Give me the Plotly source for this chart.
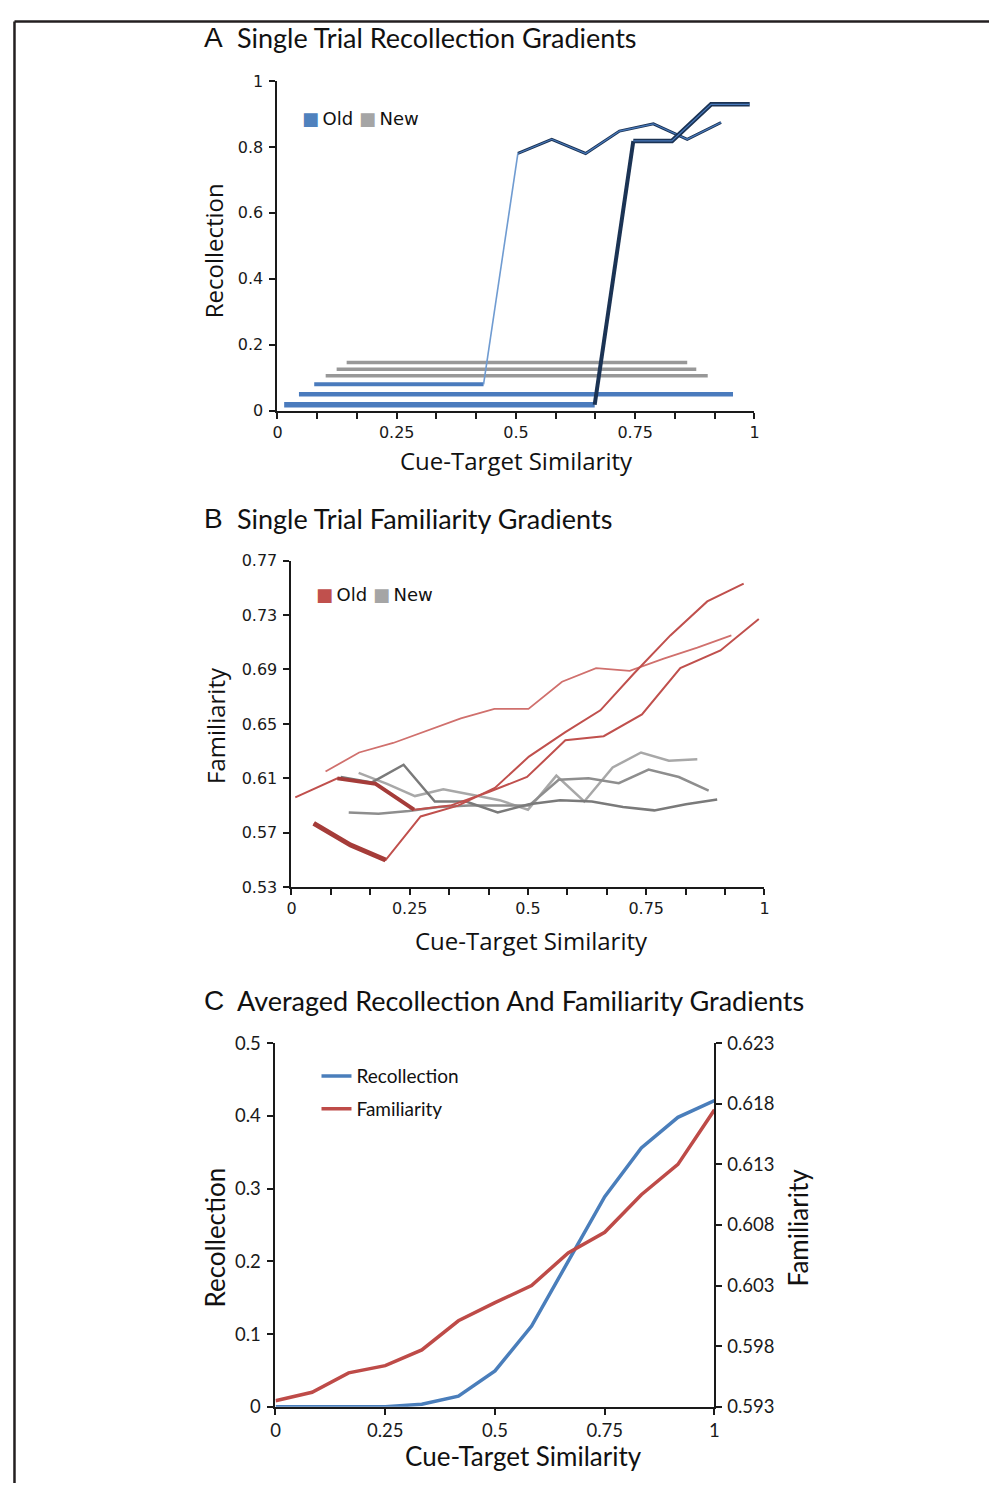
import plotly.graph_objects as go

W, H = 997, 1485
# the captured picture maps page pixels as: shot = 0.99*x + 12.5, 0.986*y + 19
SX, OX, SY, OY = 0.99, 12.5, 0.986, 19.0


def fx(px):
    return ((px - OX) / SX) / W


def fy(py):
    return 1 - ((py - OY) / SY) / H


# ---------------- Panel A : single-trial recollection gradients ----------------
A_OLD1_X = [0.014, 0.095, 0.177, 0.258, 0.339, 0.421, 0.502, 0.583, 0.665, 0.746, 0.827, 0.909, 0.990]
A_OLD1_Y = [0.018, 0.018, 0.018, 0.018, 0.018, 0.018, 0.018, 0.018, 0.018, 0.818, 0.818, 0.929, 0.929]
A_OLD2_X = [0.045, 0.121, 0.197, 0.273, 0.348, 0.424, 0.500, 0.576, 0.652, 0.727, 0.803, 0.879, 0.955]
A_OLD2_Y = [0.050, 0.050, 0.050, 0.050, 0.050, 0.050, 0.050, 0.050, 0.050, 0.050, 0.050, 0.050, 0.050]
A_OLD3_X = [0.077, 0.148, 0.219, 0.290, 0.361, 0.432, 0.504, 0.575, 0.646, 0.717, 0.788, 0.859, 0.930]
A_OLD3_Y = [0.080, 0.080, 0.080, 0.080, 0.080, 0.080, 0.780, 0.823, 0.780, 0.848, 0.870, 0.823, 0.874]
A_NEW1_X = [0.101, 0.168, 0.235, 0.301, 0.368, 0.435, 0.502, 0.568, 0.635, 0.702, 0.768, 0.835, 0.902]
A_NEW1_Y = [0.106, 0.106, 0.106, 0.106, 0.106, 0.106, 0.106, 0.106, 0.106, 0.106, 0.106, 0.106, 0.106]
A_NEW2_X = [0.124, 0.187, 0.250, 0.313, 0.375, 0.438, 0.501, 0.564, 0.627, 0.690, 0.752, 0.815, 0.878]
A_NEW2_Y = [0.126, 0.126, 0.126, 0.126, 0.126, 0.126, 0.126, 0.126, 0.126, 0.126, 0.126, 0.126, 0.126]
A_NEW3_X = [0.145, 0.205, 0.264, 0.324, 0.383, 0.443, 0.502, 0.562, 0.621, 0.681, 0.740, 0.800, 0.859]
A_NEW3_Y = [0.146, 0.146, 0.146, 0.146, 0.146, 0.146, 0.146, 0.146, 0.146, 0.146, 0.146, 0.146, 0.146]
A_YTICKS = [0, 0.2, 0.4, 0.6, 0.8, 1]
A_YTICKTEXT = ["0", "0.2", "0.4", "0.6", "0.8", "1"]

# ---------------- Panel B : single-trial familiarity gradients ----------------
B_OLD1_X = [0.008, 0.097, 0.178, 0.259, 0.336, 0.417, 0.498, 0.579, 0.660, 0.741, 0.822, 0.907, 0.988]
B_OLD1_Y = [0.596, 0.610, 0.606, 0.587, 0.590, 0.600, 0.611, 0.638, 0.641, 0.657, 0.691, 0.704, 0.727]
B_OLD2_X = [0.047, 0.125, 0.199, 0.273, 0.352, 0.430, 0.502, 0.579, 0.653, 0.724, 0.801, 0.879, 0.956]
B_OLD2_Y = [0.577, 0.561, 0.550, 0.582, 0.590, 0.603, 0.626, 0.644, 0.660, 0.687, 0.715, 0.740, 0.753]
B_OLD3_X = [0.072, 0.143, 0.215, 0.286, 0.358, 0.429, 0.501, 0.572, 0.644, 0.715, 0.787, 0.858, 0.930]
B_OLD3_Y = [0.615, 0.629, 0.636, 0.645, 0.654, 0.661, 0.661, 0.681, 0.691, 0.689, 0.698, 0.706, 0.715]
B_NEW1_X = [0.104, 0.170, 0.237, 0.303, 0.369, 0.436, 0.502, 0.568, 0.635, 0.701, 0.767, 0.834, 0.900]
B_NEW1_Y = [0.611, 0.607, 0.620, 0.593, 0.593, 0.585, 0.591, 0.594, 0.593, 0.589, 0.5865, 0.591, 0.5945]
B_NEW2_X = [0.121, 0.184, 0.248, 0.311, 0.375, 0.438, 0.502, 0.565, 0.628, 0.692, 0.755, 0.819, 0.882]
B_NEW2_Y = [0.585, 0.584, 0.586, 0.589, 0.590, 0.590, 0.590, 0.609, 0.610, 0.6065, 0.6165, 0.611, 0.601]
B_NEW3_X = [0.142, 0.202, 0.261, 0.321, 0.381, 0.440, 0.500, 0.560, 0.619, 0.679, 0.739, 0.798, 0.858]
B_NEW3_Y = [0.614, 0.606, 0.597, 0.602, 0.598, 0.594, 0.587, 0.612, 0.593, 0.618, 0.629, 0.623, 0.624]
B_YTICKS = [0.53, 0.57, 0.61, 0.65, 0.69, 0.73, 0.77]
B_YTICKTEXT = ["0.53", "0.57", "0.61", "0.65", "0.69", "0.73", "0.77"]

# ---------------- Panel C : averaged gradients ----------------
C_SIMILARITY = [0, 1/12, 2/12, 3/12, 4/12, 5/12, 6/12, 7/12, 8/12, 9/12, 10/12, 11/12, 1]
C_RECOLLECTION = [0, 0, 0, 0, 0.0037, 0.0147, 0.0495, 0.111, 0.200, 0.289, 0.356, 0.398, 0.421]
C_FAMILIARITY = [0.5935, 0.5942, 0.5958, 0.5964, 0.5977, 0.6001, 0.6016, 0.6030, 0.6057,
                 0.6074, 0.6105, 0.6130, 0.6175]
C_LEFT_TICKS = [0, 0.1, 0.2, 0.3, 0.4, 0.5]
C_LEFT_TICKTEXT = ["0", "0.1", "0.2", "0.3", "0.4", "0.5"]
C_RIGHT_TICKS = [0.593, 0.598, 0.603, 0.608, 0.613, 0.618, 0.623]
C_RIGHT_TICKTEXT = ["0.593", "0.598", "0.603", "0.608", "0.613", "0.618", "0.623"]

# shared x ticks
X_TICKS_12 = [i / 12 for i in range(13)]
X_TICKTEXT_12 = ["0", "", "", "0.25", "", "", "0.5", "", "", "0.75", "", "", "1"]
X_TICKS_4 = [0, 0.25, 0.5, 0.75, 1]
X_TICKTEXT_4 = ["0", "0.25", "0.5", "0.75", "1"]

BLUE = "#4a7bbd"
NAVY = "#1b3354"
LIGHTBLUE = "#6f9bd1"
GRAY_A = "#989898"
RED = "#c0504d"
DARKRED = "#a53c39"
LIGHTRED = "#d0706d"

fig = go.Figure()


def line(x, y, xa, ya, color, width, name=None, legend=None, showlegend=False, group=None):
    fig.add_trace(go.Scatter(
        x=x, y=y, xaxis=xa, yaxis=ya, mode="lines",
        line=dict(color=color, width=width),
        name=name, showlegend=showlegend, legend=legend, legendgroup=group,
        hoverinfo="skip"))


# ---- Panel A traces (back to front) ----
for xs, ys in [(A_NEW3_X, A_NEW3_Y), (A_NEW2_X, A_NEW2_Y), (A_NEW1_X, A_NEW1_Y)]:
    line(xs, ys, "x", "y", GRAY_A, 3.5)


def ribbon(xs, ys, low_w, rise_color, rise_w, top_w):
    k = next((i for i, v in enumerate(ys) if v > ys[0]), len(ys))
    line(xs[:k], ys[:k], "x", "y", BLUE, low_w)
    if k < len(ys):
        line(xs[k - 1:k + 1], ys[k - 1:k + 1], "x", "y", rise_color, rise_w)
        line(xs[k:], ys[k:], "x", "y", NAVY, top_w)
        line(xs[k:], ys[k:], "x", "y", BLUE, 1.2)


ribbon(A_OLD3_X, A_OLD3_Y, 4, LIGHTBLUE, 1.6, 3)
ribbon(A_OLD2_X, A_OLD2_Y, 4.5, NAVY, 4, 4)
ribbon(A_OLD1_X, A_OLD1_Y, 5.5, NAVY, 4, 4.5)

# ---- Panel B traces ----
line(B_NEW3_X, B_NEW3_Y, "x2", "y2", "#a8a8a8", 2.5)
line(B_NEW2_X, B_NEW2_Y, "x2", "y2", "#8e8e8e", 2.5)
line(B_NEW1_X, B_NEW1_Y, "x2", "y2", "#7a7a7a", 2.5)
line(B_OLD3_X, B_OLD3_Y, "x2", "y2", LIGHTRED, 1.8)
line(B_OLD2_X, B_OLD2_Y, "x2", "y2", RED, 2)
line(B_OLD2_X[:3], B_OLD2_Y[:3], "x2", "y2", DARKRED, 5)
line(B_OLD1_X, B_OLD1_Y, "x2", "y2", RED, 2)
line(B_OLD1_X[1:4], B_OLD1_Y[1:4], "x2", "y2", DARKRED, 4)

# ---- Panel C traces ----
line(C_SIMILARITY, C_RECOLLECTION, "x3", "y3", "#4a7ebb", 3.5,
     name="Recollection", legend="legend", showlegend=True, group="r")
line(C_SIMILARITY, C_FAMILIARITY, "x3", "y4", "#be4b48", 3.5,
     name="Familiarity", legend="legend", showlegend=True, group="f")

AXCOL = "#1a1a1a"
TICKF_AB = dict(family="DejaVu Sans", size=16, color=AXCOL)
TICKF_C = dict(family="Lato", size=18.5, color=AXCOL)


def axis_common(font, standoff):
    return dict(showline=True, linecolor=AXCOL, linewidth=2, ticks="outside",
                ticklen=6, tickwidth=1.5, tickcolor=AXCOL, showgrid=False,
                zeroline=False, tickfont=font, ticklabelstandoff=standoff, fixedrange=True)


fig.update_layout(
    width=W, height=H, margin=dict(l=0, r=0, t=0, b=0),
    paper_bgcolor="white", plot_bgcolor="white",
    xaxis=dict(domain=[fx(277), fx(754)], range=[0, 1], anchor="y",
               tickvals=X_TICKS_12, ticktext=X_TICKTEXT_12, **axis_common(TICKF_AB, 0)),
    yaxis=dict(domain=[fy(410), fy(80)], range=[0, 1], anchor="x",
               tickvals=A_YTICKS, ticktext=A_YTICKTEXT, **axis_common(TICKF_AB, 3)),
    xaxis2=dict(domain=[fx(291), fx(764)], range=[0, 1], anchor="y2",
                tickvals=X_TICKS_12, ticktext=X_TICKTEXT_12, **axis_common(TICKF_AB, 0)),
    yaxis2=dict(domain=[fy(887), fy(560)], range=[0.53, 0.77], anchor="x2",
                tickvals=B_YTICKS, ticktext=B_YTICKTEXT, **axis_common(TICKF_AB, 3)),
    xaxis3=dict(domain=[fx(275), fx(714)], range=[0, 1], anchor="y3",
                tickvals=X_TICKS_4, ticktext=X_TICKTEXT_4, **axis_common(TICKF_C, 0)),
    yaxis3=dict(domain=[fy(1407), fy(1043)], range=[0, 0.5], anchor="x3",
                tickvals=C_LEFT_TICKS, ticktext=C_LEFT_TICKTEXT, **axis_common(TICKF_C, 3)),
    yaxis4=dict(domain=[fy(1407), fy(1043)], range=[0.593, 0.623], anchor="x3",
                overlaying="y3", side="right",
                tickvals=C_RIGHT_TICKS, ticktext=C_RIGHT_TICKTEXT, **axis_common(TICKF_C, 1)),
    legend=dict(x=fx(316), y=fy(1057), xanchor="left", yanchor="top",
                bgcolor="rgba(0,0,0,0)", borderwidth=0, tracegroupgap=5,
                font=dict(family="Lato", size=19, color="#111"), itemwidth=30),
    showlegend=True,
)

ann = []


def text(x, y, s, font, size, angle=0, xanchor="center", color="#111"):
    ann.append(dict(x=fx(x), y=fy(y), xref="paper", yref="paper", text=s,
                    showarrow=False, xanchor=xanchor, yanchor="middle", textangle=angle,
                    font=dict(family=font, size=size, color=color)))


# panel titles
for letter, rest, yy in [("A", "Single Trial Recollection Gradients", 37),
                         ("B", "Single Trial Familiarity Gradients", 518),
                         ("C", "Averaged Recollection And Familiarity Gradients", 1000)]:
    text(202, yy, letter, "Liberation Sans", 28, xanchor="left")
    text(235, yy, rest, "Lato", 27, xanchor="left")

# axis titles
text(213, 250, "Recollection", "Open Sans", 24, angle=-90)
text(516, 460, "Cue-Target Similarity", "Open Sans", 24)
text(215, 725, "Familiarity", "Open Sans", 24, angle=-90)
text(531, 940, "Cue-Target Similarity", "Open Sans", 24)
text(214, 1237, "Recollection", "Lato", 26, angle=-90)
text(798, 1227, "Familiarity", "Lato", 26, angle=-90)
text(523, 1456, "Cue-Target Similarity", "Lato", 26)

# legends of panels A and B
text(300, 118, '<span style="color:#4f81bd">■</span>\u2009Old <span style="color:#a5a5a5">■</span>\u2009New',
     "DejaVu Sans", 18, xanchor="left")
text(314, 594, '<span style="color:#c0504d">■</span>\u2009Old <span style="color:#a5a5a5">■</span>\u2009New',
     "DejaVu Sans", 18, xanchor="left")

fig.update_layout(annotations=ann)

# figure frame (top and left rules), kept inside the page
fig.add_shape(type="line", xref="paper", yref="paper", x0=0.0015, x1=1, y0=0.999, y1=0.999,
              line=dict(color="#231f20", width=2.5))
fig.add_shape(type="line", xref="paper", yref="paper", x0=0.0015, x1=0.0015, y0=0.999, y1=0,
              line=dict(color="#231f20", width=2.5))

fig.write_html("out.html")
